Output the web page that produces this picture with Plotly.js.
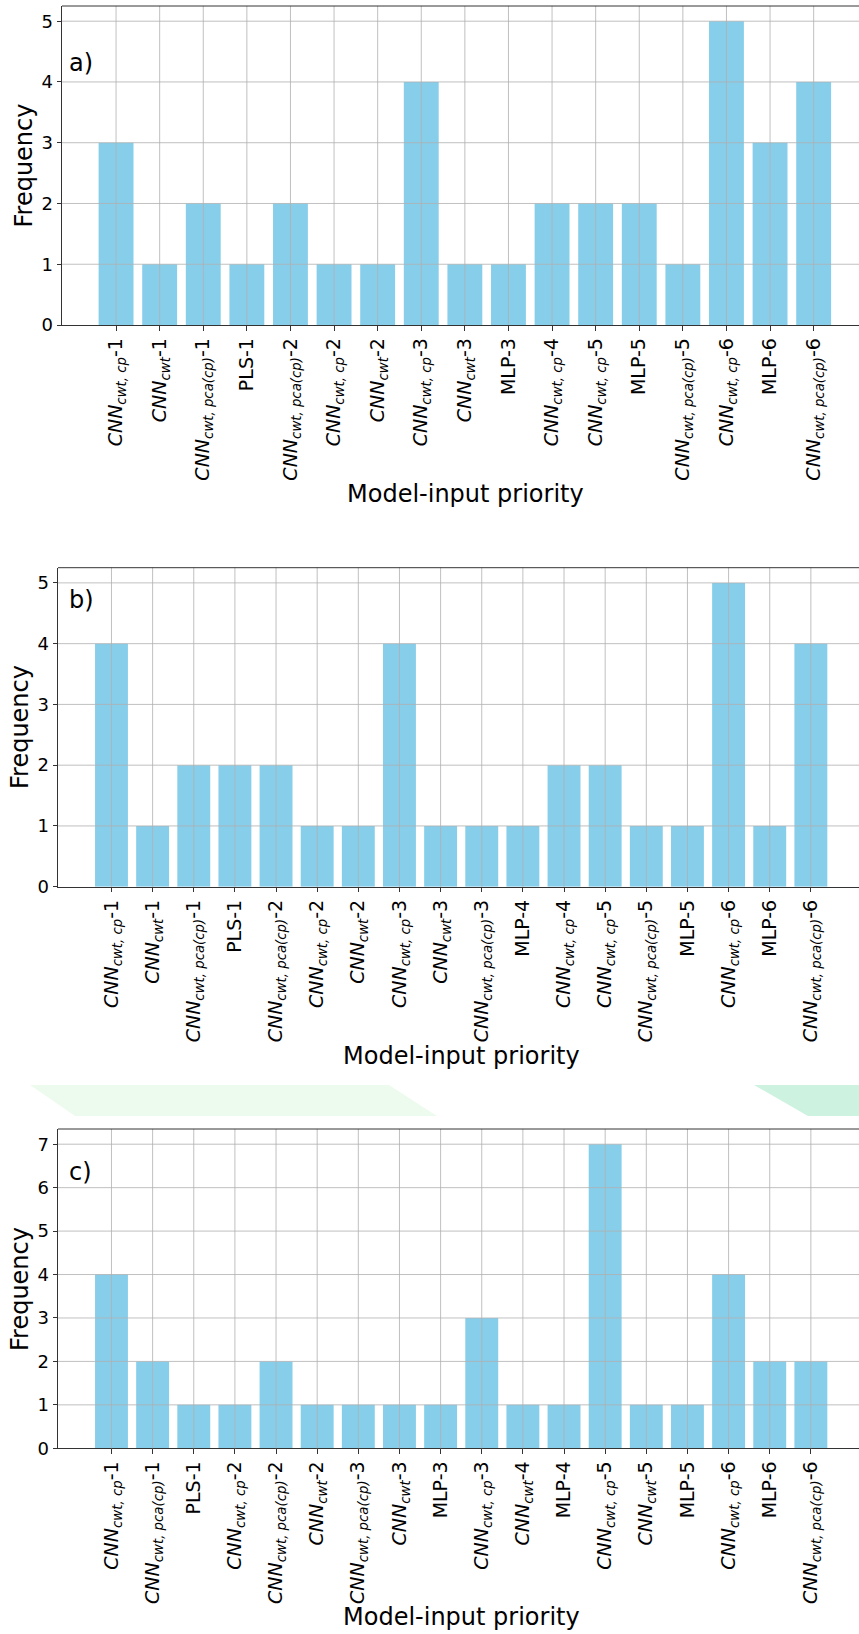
<!DOCTYPE html>
<html>
<head>
<meta charset="utf-8">
<script src="https://cdn.plot.ly/plotly-3.0.1.min.js"></script>
<style>
html,body{margin:0;padding:0;background:#fff;overflow:hidden;}
#chart{width:859px;height:1634px;}
</style>
</head>
<body>
<div id="chart"></div>
<script>
// ---------- data ----------
const CP = "<i>CNN<sub>cwt, cp</sub></i>";
const CW = "<i>CNN<sub>cwt</sub></i>";
const PC = "<i>CNN<sub>cwt, pca(cp)</sub></i>";

const categoriesA = [CP+"-1", CW+"-1", PC+"-1", "PLS-1", PC+"-2", CP+"-2", CW+"-2", CP+"-3", CW+"-3",
  "MLP-3", CP+"-4", CP+"-5", "MLP-5", PC+"-5", CP+"-6", "MLP-6", PC+"-6"];
const valuesA = [3, 1, 2, 1, 2, 1, 1, 4, 1, 1, 2, 2, 2, 1, 5, 3, 4];

const categoriesB = [CP+"-1", CW+"-1", PC+"-1", "PLS-1", PC+"-2", CP+"-2", CW+"-2", CP+"-3", CW+"-3",
  PC+"-3", "MLP-4", CP+"-4", CP+"-5", PC+"-5", "MLP-5", CP+"-6", "MLP-6", PC+"-6"];
const valuesB = [4, 1, 2, 2, 2, 1, 1, 4, 1, 1, 1, 2, 2, 1, 1, 5, 1, 4];

const categoriesC = [CP+"-1", PC+"-1", "PLS-1", CP+"-2", PC+"-2", CW+"-2", PC+"-3", CW+"-3", "MLP-3",
  CP+"-3", CW+"-4", "MLP-4", CP+"-5", CW+"-5", "MLP-5", CP+"-6", "MLP-6", PC+"-6"];
const valuesC = [4, 2, 1, 1, 2, 1, 1, 1, 1, 3, 1, 1, 7, 1, 1, 4, 2, 2];

const panelLabels = ["a)", "b)", "c)"];
const xTitle = "Model-input priority";
const yTitle = "Frequency";

// ---------- layout helpers ----------
const W = 859, H = 1634;
const px = x => x / W;
const py = y => 1 - y / H;

const panels = [
  {cats: categoriesA, vals: valuesA, left: 62, top: 6, bottom: 325, xr: [-1.24, 17.04], ymax: 5.25,
   lab: [66.5, 63.5], xt: [465, 494], yt: [24, 165.5]},
  {cats: categoriesB, vals: valuesB, left: 58, top: 567.7, bottom: 886.7, xr: [-1.3, 18.17], ymax: 5.25,
   lab: [67, 600], xt: [461, 1056], yt: [20, 727]},
  {cats: categoriesC, vals: valuesC, left: 58, top: 1129, bottom: 1448.3, xr: [-1.3, 18.17], ymax: 7.35,
   lab: [67, 1172], xt: [461, 1617], yt: [20, 1289]}
];

const FONT = "DejaVu Sans, Liberation Sans, sans-serif";
const data = [];
const layout = {
  width: W, height: H,
  margin: {l: 0, r: 0, t: 0, b: 0},
  paper_bgcolor: "#fff", plot_bgcolor: "#fff",
  showlegend: false,
  font: {family: FONT, color: "#000", size: 18},
  shapes: [], annotations: []
};

panels.forEach((p, i) => {
  const sfx = i === 0 ? "" : String(i + 1);
  const xa = "x" + sfx, ya = "y" + sfx;
  data.push({
    type: "bar", x: p.cats, y: p.vals, xaxis: xa, yaxis: ya,
    width: 0.8, marker: {color: "#87CEEB", line: {width: 0}},
    hoverinfo: "skip"
  });
  const yTicks = [];
  for (let v = 0; v <= Math.floor(p.ymax); v++) yTicks.push(v);
  layout["xaxis" + sfx] = {
    domain: [px(p.left), 1], anchor: ya, type: "category",
    range: p.xr, fixedrange: true,
    showgrid: false, zeroline: false,
    showline: true, linecolor: "#000", linewidth: 0.8,
    ticks: "outside", ticklen: 4.7, tickwidth: 0.8, tickcolor: "#000",
    tickangle: -90, tickfont: {size: 19, family: FONT, color: "#000"},
    categoryorder: "array", categoryarray: p.cats
  };
  layout["yaxis" + sfx] = {
    domain: [py(p.bottom), py(p.top)], anchor: xa,
    range: [0, p.ymax], fixedrange: true,
    tickvals: yTicks, ticktext: yTicks.map(String),
    showgrid: false, zeroline: false,
    showline: true, linecolor: "#000", linewidth: 0.8,
    ticks: "outside", ticklen: 4.7, tickwidth: 0.8, tickcolor: "#000",
    tickfont: {size: 18, family: FONT, color: "#000"}
  };
  // grid above bars
  p.cats.forEach((c, k) => {
    layout.shapes.push({type: "line", layer: "above", xref: xa, yref: ya + " domain",
      x0: k, x1: k, y0: 0, y1: 1, line: {color: "#b0b0b0", width: 0.8}});
  });
  yTicks.filter(v => v > 0).forEach(v => {
    layout.shapes.push({type: "line", layer: "above", xref: xa + " domain", yref: ya,
      x0: 0, x1: 1, y0: v, y1: v, line: {color: "#b0b0b0", width: 0.8}});
  });
  // top spine
  layout.shapes.push({type: "line", layer: "above", xref: xa + " domain", yref: ya + " domain",
    x0: 0, x1: 1, y0: 1, y1: 1, line: {color: "#000", width: 0.8}});
  // texts
  layout.annotations.push({text: panelLabels[i], xref: "paper", yref: "paper",
    x: px(p.lab[0]), y: py(p.lab[1]), xanchor: "left", yanchor: "middle",
    showarrow: false, font: {size: 24, family: FONT, color: "#000"}});
  layout.annotations.push({text: xTitle, xref: "paper", yref: "paper",
    x: px(p.xt[0]), y: py(p.xt[1]), xanchor: "center", yanchor: "middle",
    showarrow: false, font: {size: 24, family: FONT, color: "#000"}});
  layout.annotations.push({text: yTitle, xref: "paper", yref: "paper", textangle: -90,
    x: px(p.yt[0]), y: py(p.yt[1]), xanchor: "center", yanchor: "middle",
    showarrow: false, font: {size: 24, family: FONT, color: "#000"}});
});

// pale green stripes between panels b and c
function poly(pts) {
  return "M" + pts.map(q => px(q[0]) + "," + py(q[1])).join(" L") + " Z";
}
layout.shapes.push({type: "path", xref: "paper", yref: "paper", layer: "below",
  path: poly([[30, 1085], [389, 1085], [437, 1116], [75, 1116]]),
  fillcolor: "#edfbee", line: {width: 0}});
layout.shapes.push({type: "path", xref: "paper", yref: "paper", layer: "below",
  path: poly([[754, 1085], [859, 1085], [859, 1116], [808, 1116]]),
  fillcolor: "#cdf2e0", line: {width: 0}});

Plotly.newPlot("chart", data, layout, {staticPlot: true, displayModeBar: false});
</script>
</body>
</html>
